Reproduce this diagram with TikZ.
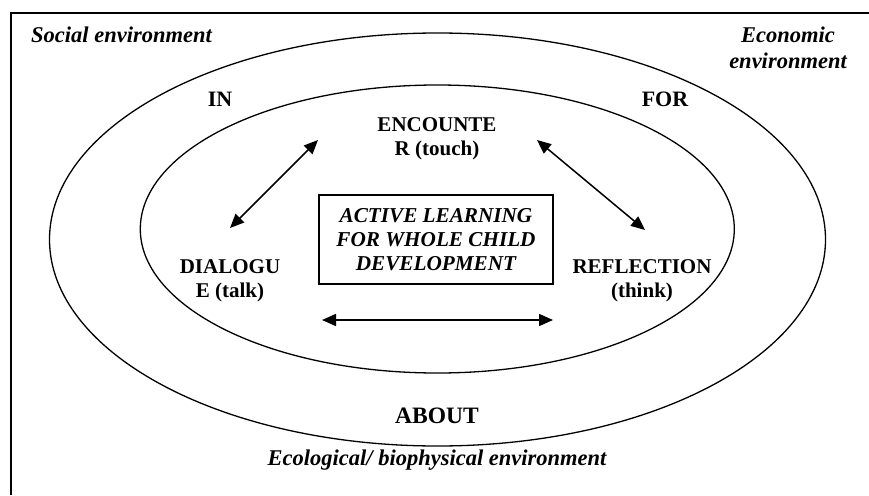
\documentclass[tikz,border=0pt]{standalone}
\usepackage{fontspec}
\setmainfont{Liberation Serif}
\usetikzlibrary{arrows.meta}
\tikzset{
  envlabel/.style={font=\fontsize{22.5}{26}\selectfont\bfseries\itshape, inner sep=0pt, align=center},
  preplabel/.style={font=\fontsize{22}{24}\selectfont\bfseries, inner sep=0pt},
  modelabel/.style={font=\fontsize{21}{23.5}\selectfont\bfseries, inner sep=0pt, align=center},
  corebox/.style={draw, line width=1.3pt, minimum width=234pt, minimum height=89pt, align=center,
    font=\fontsize{21.2}{24}\selectfont\bfseries\itshape, inner sep=0pt},
  ring/.style={line width=1.3pt},
  dblarrow/.style={line width=1.5pt, {Triangle[length=14pt,width=12pt]}-{Triangle[length=14pt,width=12pt]}}
}
\begin{document}
\begin{tikzpicture}[x=1pt,y=-1pt]
\useasboundingbox (0,0) rectangle (869,495);
% frame (top and left edges)
\draw[line width=2.6pt] (11,495) -- (11,13) -- (869,13);
% ellipses
\draw[ring] (437.5,239.5) ellipse [x radius=388pt, y radius=206.5pt];
\draw[ring] (437.3,229) ellipse [x radius=297pt, y radius=144pt];
% environment labels
\node[envlabel, anchor=base west] (soc) at (31,42) {Social environment};
\node[envlabel] (eco) at (788,48) {Economic\\environment};
\node[envlabel] (ecol) at (437,460) {Ecological/ biophysical environment};
% prepositions
\node[preplabel] (in) at (220,99) {IN};
\node[preplabel] (for) at (665,99) {FOR};
\node[preplabel, font=\fontsize{23.5}{26}\selectfont\bfseries] (about) at (437,416) {ABOUT};
% modes
\node[modelabel] (enc) at (437,139) {ENCOUNTE\\R (touch)};
\node[modelabel] (dia) at (230,281) {DIALOGU\\E (talk)};
\node[modelabel] (ref) at (642,281) {REFLECTION\\(think)};
% core box
\node[corebox] (core) at (436,239.5) {ACTIVE LEARNING\\FOR WHOLE CHILD\\DEVELOPMENT};
% arrow end points
\coordinate (encL) at (318,140);
\coordinate (diaT) at (230,228);
\coordinate (encR) at (537,140);
\coordinate (refT) at (645,230);
\coordinate (diaR) at (322,320);
\coordinate (refL) at (553,320);
\draw[dblarrow] (diaT) -- (encL);
\draw[dblarrow] (encR) -- (refT);
\draw[dblarrow] (diaR) -- (refL);
\end{tikzpicture}
\end{document}
